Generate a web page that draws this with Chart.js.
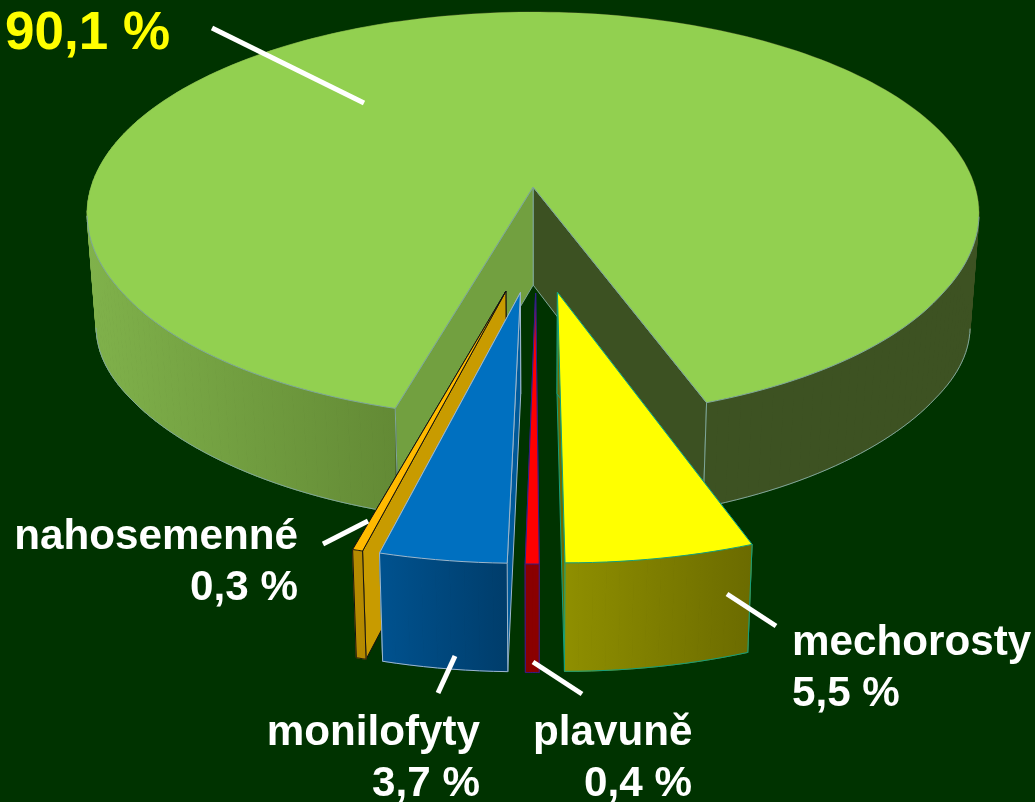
<!DOCTYPE html>
<html><head><meta charset="utf-8">
<style>html,body{margin:0;padding:0;background:#003300;overflow:hidden}canvas{display:block}</style>
<script src="https://cdn.jsdelivr.net/npm/chart.js@4"></script>
</head><body>
<canvas id="c" width="1035" height="802"></canvas>
<script>
const categories = ['', 'mechorosty', 'plavuně', 'monilofyty', 'nahosemenné'];
const shares = [90.1, 5.5, 0.4, 3.7, 0.3];
const topColors = ['#92D050', '#FFFF00', '#FF0000', '#0070C0', '#FFBA00'];
const wallStart = ['#80B24B', '#8F8F00', '#8B0000', '#00528F', '#B58A00'];
const wallEnd = ['#3D5222', '#6B6B00', '#8B0000', '#003D6B', '#B58A00'];
const cutLeft = ['#72A040', '#6B6B00', '#8B0000', '#005A9A', '#C89B00'];
const cutRight = ['#3C5122', '#6B6B00', '#8B0000', '#005A9A', '#C89B00'];
const edgeColors = ['#7FA79A', '#12A07E', '#30208A', '#9DB7CC', '#111111'];

const CX = 537, APEX_Y = 187, SCALE_X = 442, K = 198.2, B = 0.1325, EXPLODE = 0.25;
function proj(X, Y, low) {
  const v = Y + EXPLODE, w = 1 - B * v;
  const t = Math.min(1, Math.max(0, v - 0.5));
  let x = CX + SCALE_X * X / w, y = APEX_Y + K * v / w;
  x = CX + 3.5 * t + (x - CX) * (1 + 0.015 * t);
  y += 6 * t;
  if (low) { x = CX + (x - CX) * 0.98; y += 98 + 7 * v; }
  return [x, y];
}
function poly(ctx, pts, fill, stroke) {
  ctx.beginPath();
  pts.forEach((p, i) => i ? ctx.lineTo(p[0], p[1]) : ctx.moveTo(p[0], p[1]));
  ctx.closePath();
  ctx.fillStyle = fill; ctx.fill();
  if (stroke) { ctx.strokeStyle = stroke; ctx.lineWidth = 1; ctx.lineJoin = 'round'; ctx.stroke(); }
}
function line(ctx, pts, stroke) {
  ctx.beginPath();
  pts.forEach((p, i) => i ? ctx.lineTo(p[0], p[1]) : ctx.moveTo(p[0], p[1]));
  ctx.strokeStyle = stroke; ctx.lineWidth = 1; ctx.stroke();
}
function drawSlice(ctx, arc, i) {
  const a0 = arc.startAngle, a1 = arc.endAngle, mid = (a0 + a1) / 2;
  const ox = EXPLODE * Math.cos(mid), oy = EXPLODE * Math.sin(mid);
  const n = Math.max(8, Math.round((a1 - a0) * 40));
  const rimT = [], rimB = [], frontT = [], frontBl = [], frontBr = [];
  for (let k = 0; k <= n; k++) {
    const a = a0 + (a1 - a0) * k / n;
    const t = proj(ox + Math.cos(a), oy + Math.sin(a), false);
    const b = proj(ox + Math.cos(a), oy + Math.sin(a), true);
    if (i === 0) b[1] += 14 * Math.pow(Math.abs(Math.cos(a)), 8);
    rimT.push(t); rimB.push(b);
    if (Math.sin(a) > 0.13) {
      frontT.push(t);
      (Math.cos(a) < 0 ? frontBl : frontBr).push(b);
    } else if (frontT.length) { frontT.push(null); }
  }
  const apT = proj(ox, oy, false), apB = proj(ox, oy, true);
  const xs = rimT.map(p => p[0]), minX = Math.min(...xs), maxX = Math.max(...xs);
  const edge = edgeColors[i];
  const g = ctx.createLinearGradient(minX, 0, maxX, 0);
  if (i === 0) {
    g.addColorStop(0, '#80B24B');
    g.addColorStop((395 - minX) / (maxX - minX), '#638A35');
    g.addColorStop((396 - minX) / (maxX - minX), '#3D5222');
    g.addColorStop(1, '#3D5222');
  } else {
    g.addColorStop(0, wallStart[i]); g.addColorStop(1, wallEnd[i]);
  }
  // inner cut faces first, so the faces that look away are hidden by the wall and the top
  poly(ctx, [apT, rimT[n], rimB[n], apB], cutRight[i], edge);
  poly(ctx, [apT, rimT[0], rimB[0], apB], cutLeft[i], edge);
  for (let k = 0; k < n; k++) {
    poly(ctx, [rimT[k], rimT[k + 1], rimB[k + 1], rimB[k]], g, null);
    line(ctx, [rimT[k], rimT[k + 1], rimB[k + 1], rimB[k], rimT[k]], g);
  }
  if (i === 0) {
    line(ctx, frontBl, edge); line(ctx, frontBr, edge);
  } else {
    line(ctx, rimB, edge);
  }
  line(ctx, [rimT[0], rimB[0]], edge);
  line(ctx, [rimT[n], rimB[n]], edge);
  if (i === 0) {
    poly(ctx, [apT].concat(rimT), topColors[0], null);
    line(ctx, [rimT[0], apT, rimT[n]], edge);
    const leftRim = rimT.filter((p, k) => Math.sin(a0 + (a1 - a0) * k / n) > 0.13 && p[0] < CX);
    const rightRim = rimT.filter((p, k) => Math.sin(a0 + (a1 - a0) * k / n) > 0.13 && p[0] > CX);
    line(ctx, leftRim, edge); line(ctx, rightRim, edge);
  } else {
    poly(ctx, [apT].concat(rimT), topColors[i], edge);
  }
}
const pie3d = {
  id: 'pie3d',
  beforeDatasetDraw(chart, args) {
    const ctx = chart.ctx, arcs = args.meta.data;
    ctx.save();
    [0, 4, 3, 2, 1].forEach(i => drawSlice(ctx, arcs[i], i));
    ctx.restore();
    return false;
  },
  afterDraw(chart) {
    const ctx = chart.ctx;
    ctx.save();
    ctx.strokeStyle = '#FFFFFF'; ctx.lineWidth = 5; ctx.lineCap = 'butt';
    [[212, 28, 364, 103], [323, 544, 368, 521], [776, 626, 727, 594], [438, 693, 455, 656], [582, 694, 533, 662]].forEach(s => {
      ctx.beginPath(); ctx.moveTo(s[0], s[1]); ctx.lineTo(s[2], s[3]); ctx.stroke();
    });
    const pct = v => v.toFixed(1).replace('.', ',') + ' %';
    const txt = (t, x, y, al) => { ctx.textAlign = al; ctx.fillText(t, x, y); };
    ctx.textBaseline = 'alphabetic';
    ctx.font = 'bold 53px "Liberation Sans"'; ctx.fillStyle = '#FFFF00';
    txt(pct(shares[0]), 5, 49, 'left');
    ctx.font = 'bold 42.2px "Liberation Sans"'; ctx.fillStyle = '#FFFFFF';
    txt(categories[4], 298, 549, 'right'); txt(pct(shares[4]), 298, 600, 'right');
    txt(categories[1], 792, 655, 'left'); txt(pct(shares[1]), 792, 706, 'left');
    txt(categories[3], 480, 745, 'right'); txt(pct(shares[3]), 480, 796, 'right');
    txt(categories[2], 533, 745, 'left'); txt(pct(shares[2]), 692, 796, 'right');
    ctx.restore();
  }
};
new Chart(document.getElementById('c'), {
  type: 'pie',
  data: { labels: categories, datasets: [{ data: shares, backgroundColor: topColors, borderWidth: 0 }] },
  options: {
    responsive: false, animation: false, rotation: 195.8,
    plugins: { legend: { display: false }, tooltip: { enabled: false } }
  },
  plugins: [pie3d]
});
</script>
</body></html>
